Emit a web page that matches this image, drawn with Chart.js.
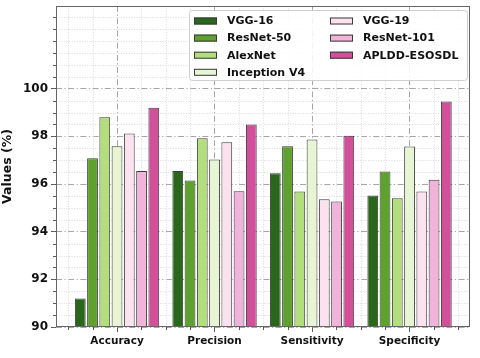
<!DOCTYPE html>
<html>
<head>
<meta charset="utf-8">
<script src="https://cdn.jsdelivr.net/npm/chart.js@4.4.0/dist/chart.umd.min.js"></script>
<style>
  body { margin: 0; background: #fff; }
  #wrap { width: 480px; height: 358px; }
</style>
</head>
<body>
<div id="wrap"><canvas id="metricsChart" width="480" height="358"></canvas></div>
<script>
// Chart data
const categories = ['Accuracy', 'Precision', 'Sensitivity', 'Specificity'];
const xTickValues = [0, 1, 2, 3];
const yTickValues = [90, 92, 94, 96, 98, 100];

const vgg16 = [91.2, 96.55, 96.45, 95.52];
const resnet50 = [97.08, 96.15, 97.58, 96.53];
const alexnet = [98.8, 97.92, 95.69, 95.4];
const inceptionV4 = [97.58, 97.03, 97.87, 97.57];
const vgg19 = [98.12, 97.75, 95.36, 95.69];
const resnet101 = [96.55, 95.7, 95.27, 96.18];
const apldd = [99.2, 98.5, 98.03, 99.46];

const seriesNames = ['VGG-16', 'ResNet-50', 'AlexNet', 'Inception V4', 'VGG-19', 'ResNet-101', 'APLDD-ESOSDL'];
const seriesValues = [vgg16, resnet50, alexnet, inceptionV4, vgg19, resnet101, apldd];
const seriesColors = ['#29671b', '#5ea12e', '#b2de7e', '#e7f5d4', '#fbe2ee', '#f0b3d9', '#d2509a'];

const FONT = 'DejaVu Sans';
const MAJOR_GRID = '#8f8f8f';
const MINOR_GRID = '#d0d0d0';

// minor grid lines + minor ticks, drawn under the bars
const minorGrid = {
    id: 'minorGrid',
    beforeDatasetsDraw(chart) {
        const { ctx, chartArea: a, scales: { x, y } } = chart;
        ctx.save();
        ctx.lineWidth = 0.8;
        ctx.strokeStyle = MINOR_GRID;
        ctx.setLineDash([1, 1.6]);
        for (let v = -0.5; v <= 3.5; v += 0.25) {
            if (Number.isInteger(v)) continue;
            const px = Math.round(x.getPixelForValue(v)) + 0.5;
            ctx.beginPath(); ctx.moveTo(px, a.top); ctx.lineTo(px, a.bottom); ctx.stroke();
        }
        for (let v = 90.5; v <= y.max; v += 0.5) {
            if (yTickValues.includes(v)) continue;
            const py = Math.round(y.getPixelForValue(v)) + 0.5;
            ctx.beginPath(); ctx.moveTo(a.left, py); ctx.lineTo(a.right, py); ctx.stroke();
        }
        // minor tick marks
        ctx.setLineDash([]);
        ctx.strokeStyle = '#333';
        ctx.lineWidth = 0.8;
        for (let v = -0.5; v <= 3.5; v += 0.25) {
            if (Number.isInteger(v)) continue;
            const px = Math.round(x.getPixelForValue(v)) + 0.5;
            ctx.beginPath(); ctx.moveTo(px, a.bottom); ctx.lineTo(px, a.bottom + 3); ctx.stroke();
        }
        for (let v = 90.5; v <= y.max; v += 0.5) {
            if (yTickValues.includes(v)) continue;
            const py = Math.round(y.getPixelForValue(v)) + 0.5;
            ctx.beginPath(); ctx.moveTo(a.left - 3, py); ctx.lineTo(a.left, py); ctx.stroke();
        }
        ctx.restore();
    }
};

// frame + legend box inside the plot
const frameLegend = {
    id: 'frameLegend',
    afterDraw(chart) {
        const { ctx, chartArea: a } = chart;
        ctx.save();
        ctx.strokeStyle = '#666';
        ctx.lineWidth = 1;
        ctx.strokeRect(a.left + 0.5, a.top + 0.5, a.right - a.left - 1, a.bottom - a.top - 1);

        // legend
        const bx = 189, by = 10, bw = 278, bh = 70;
        ctx.fillStyle = 'rgba(255,255,255,0.85)';
        ctx.strokeStyle = '#cfcfcf';
        ctx.lineWidth = 1;
        ctx.beginPath();
        ctx.roundRect(bx + 0.5, by + 0.5, bw, bh, 3);
        ctx.fill(); ctx.stroke();

        ctx.font = 'bold 11px "' + FONT + '"';
        ctx.textBaseline = 'middle';
        chart.data.datasets.forEach((ds, i) => {
            const col = i < 4 ? 0 : 1;
            const row = i < 4 ? i : i - 4;
            const sx = col === 0 ? 194 : 330;
            const cy = 21 + row * 17.1;
            ctx.fillStyle = ds.backgroundColor;
            ctx.fillRect(sx, cy - 3.5, 23, 7);
            ctx.strokeStyle = '#3a3a3a';
            ctx.strokeRect(sx + 0.5, cy - 3.5 + 0.5, 22, 6);
            ctx.fillStyle = '#111';
            ctx.fillText(ds.label, sx + 33, cy + 0.5);
        });
        ctx.restore();
    }
};

const datasets = seriesNames.map((name, i) => ({
    label: name,
    data: seriesValues[i].map((v, k) => ({ x: xTickValues[k], y: v })),
    backgroundColor: seriesColors[i],
    borderColor: '#3c3c3c',
    borderWidth: 1,
    borderSkipped: false,
    categoryPercentage: 0.88,
    barPercentage: 0.88
}));

new Chart(document.getElementById('metricsChart'), {
    type: 'bar',
    data: { datasets: datasets },
    options: {
        responsive: false,
        animation: false,
        devicePixelRatio: 1,
        layout: { autoPadding: false, padding: { top: 6, right: 10, left: 0, bottom: 0 } },
        plugins: {
            legend: { display: false },
            tooltip: { enabled: false }
        },
        scales: {
            x: {
                type: 'linear',
                offset: false,
                min: -0.626,
                max: 3.62,
                afterBuildTicks: (scale) => { scale.ticks = xTickValues.map(v => ({ value: v })); },
                afterFit: (scale) => {
                    scale.height = 31;
                    scale.paddingLeft = 0;
                    scale.paddingRight = 0;
                },
                grid: {
                    offset: false,
                    color: MAJOR_GRID,
                    lineWidth: 0.8,
                    tickLength: 5,
                    tickColor: '#333'
                },
                border: { display: false, dash: [6, 2.5, 1.2, 2.5] },
                ticks: {
                    autoSkip: false,
                    maxRotation: 0,
                    padding: 3,
                    color: '#111',
                    font: { family: FONT, weight: 'bold', size: 10.5 },
                    callback: (value) => categories[value]
                }
            },
            y: {
                min: 90,
                max: 103.47,
                afterBuildTicks: (scale) => { scale.ticks = yTickValues.map(v => ({ value: v })); },
                afterFit: (scale) => {
                    scale.width = 56;
                    scale.paddingTop = 0;
                    scale.paddingBottom = 0;
                },
                grid: {
                    color: MAJOR_GRID,
                    lineWidth: 0.8,
                    tickLength: 5,
                    tickColor: '#333'
                },
                border: { display: false, dash: [6, 2.5, 1.2, 2.5] },
                ticks: {
                    padding: 3,
                    color: '#111',
                    font: { family: FONT, weight: 'bold', size: 12 },
                    callback: (value) => String(value)
                },
                title: {
                    display: true,
                    text: 'Values (%)',
                    color: '#111',
                    padding: 0,
                    font: { family: FONT, weight: 'bold', size: 12.5 }
                }
            }
        }
    },
    plugins: [minorGrid, frameLegend]
});
</script>
</body>
</html>
